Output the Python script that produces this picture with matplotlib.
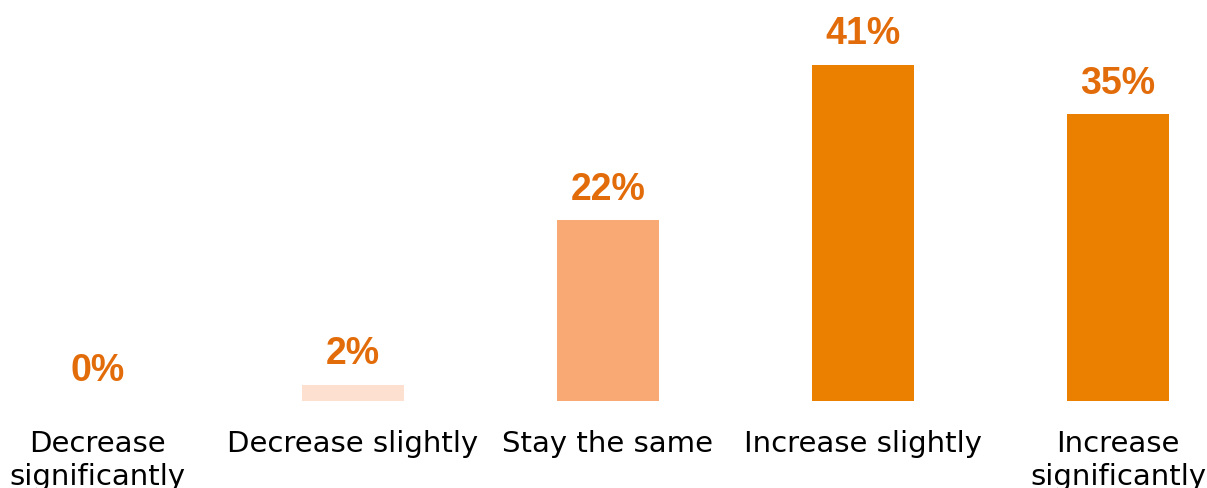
import matplotlib
matplotlib.use("Agg")
import matplotlib.pyplot as plt
from matplotlib.transforms import blended_transform_factory, offset_copy

categories = ["Decrease\nsignificantly", "Decrease slightly", "Stay the same",
              "Increase slightly", "Increase\nsignificantly"]
values = [0, 2, 22, 41, 35]
labels = ["0%", "2%", "22%", "41%", "35%"]
colors = ["#FDE0CF", "#FDE0CF", "#F8A974", "#EB8000", "#EB8000"]
label_color = "#E36C0A"

fig = plt.figure(figsize=(12.07, 4.89), dpi=100)
ax = fig.add_axes([0, 0.178, 1, 0.822])
x = list(range(len(values)))
ax.bar(x, values, width=0.4, color=colors)
ax.set_xlim(-0.384, 4.349)
ax.set_ylim(0, 49.0)
ax.axis("off")

for xi, v, lab in zip(x, values, labels):
    ax.annotate(lab, (xi, v), xytext=(0, 22.5), textcoords="offset points",
                ha="center", va="center", fontsize=27, fontweight="bold",
                color=label_color, family=["Liberation Sans", "DejaVu Sans"])

trans = blended_transform_factory(ax.transData, ax.transAxes)
for xi, cat in zip(x, categories):
    ax.text(xi, 0, cat, transform=offset_copy(trans, fig=fig, x=0, y=-20, units="points"),
            ha="center", va="top", fontsize=21, color="#000000",
            family=["DejaVu Sans"], linespacing=1.24, clip_on=False)

fig.savefig("out.png", dpi=100)
